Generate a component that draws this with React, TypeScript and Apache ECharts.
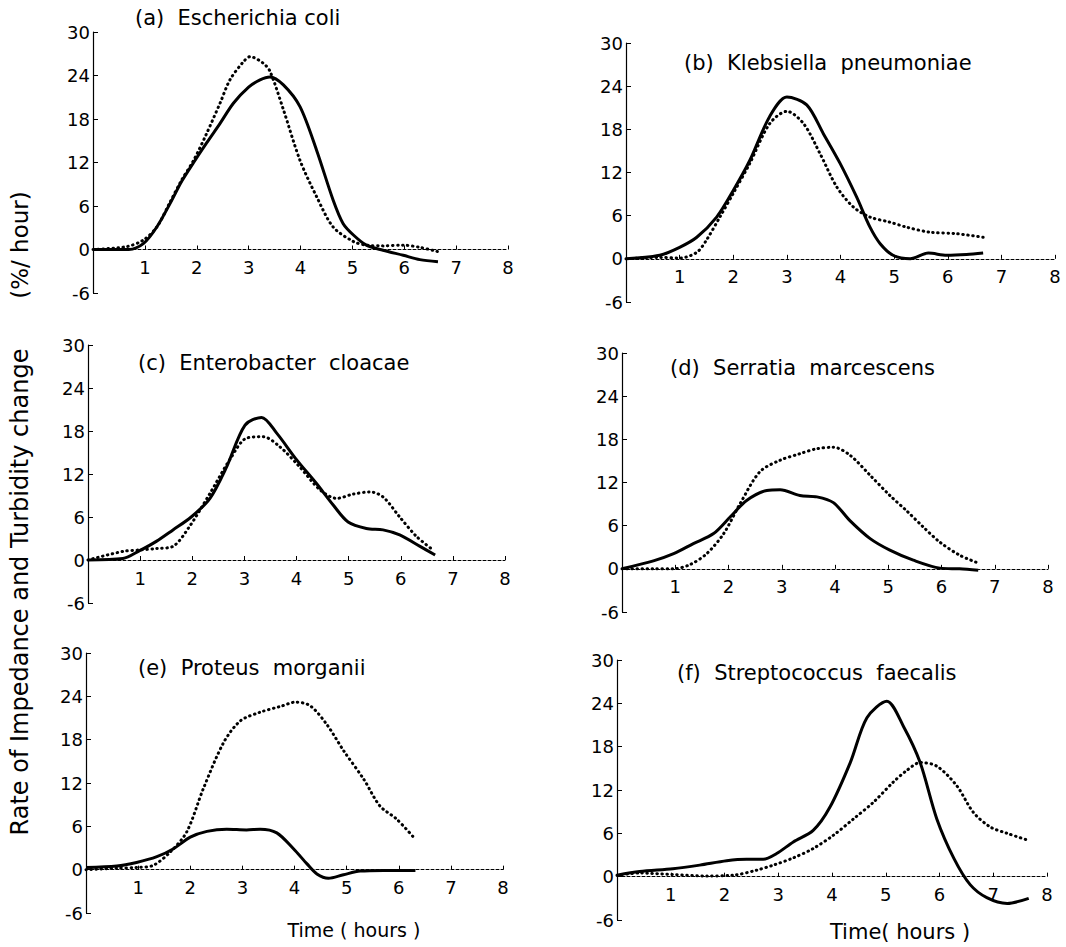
import React, { useEffect, useRef } from "react";
import * as echarts from "echarts";

// ---- data: [hours, % per hour] ----
const aSolid = [[0,0],[0.69,0],[0.97,0.8],[1.23,3.1],[1.49,6.4],[1.71,9.4],[1.94,12.0],[2.19,14.7],[2.45,17.4],[2.71,20.2],[3.0,22.4],[3.22,23.4],[3.41,23.8],[3.67,22.7],[3.99,19.7],[4.31,13.7],[4.63,6.8],[4.82,3.6],[5.02,2.0],[5.27,0.6],[5.59,-0.1],[5.98,-0.8],[6.3,-1.4],[6.65,-1.7]];
const aDotted = [[0,0],[0.65,0.4],[0.97,1.3],[1.23,3.1],[1.49,6.6],[1.71,9.6],[1.94,12.3],[2.19,16.0],[2.45,20.2],[2.64,23.4],[2.9,25.9],[3.03,26.6],[3.28,25.7],[3.41,24.6],[3.67,19.3],[3.99,12.3],[4.31,7.3],[4.63,3.1],[5.02,1.1],[5.27,0.6],[5.59,0.5],[5.98,0.6],[6.3,0.3],[6.65,-0.3]];

const bSolid = [[0,0],[0.63,0.5],[1.0,1.6],[1.32,3.0],[1.69,5.8],[2.0,9.5],[2.31,13.7],[2.68,19.8],[3.0,22.5],[3.37,21.4],[3.68,17.4],[3.99,13.3],[4.3,8.6],[4.55,4.4],[4.74,2.1],[4.98,0.5],[5.3,0],[5.64,0.8],[5.98,0.5],[6.35,0.6],[6.66,0.8]];
const bDotted = [[0,0],[0.63,0.2],[1.0,0.1],[1.32,0.9],[1.5,2.6],[1.75,5.8],[2.0,9.1],[2.31,13.3],[2.68,18.8],[3.0,20.5],[3.31,18.8],[3.62,14.6],[3.93,10.0],[4.24,7.2],[4.55,5.8],[4.92,5.1],[5.23,4.4],[5.67,3.7],[6.16,3.5],[6.66,3.0]];

const cSolid = [[0,0],[0.67,0.2],[0.99,1.3],[1.31,2.6],[1.63,4.2],[1.98,6.0],[2.34,8.6],[2.66,13.0],[3.01,18.8],[3.33,19.9],[3.62,17.7],[4.0,14.0],[4.38,10.7],[4.7,7.7],[4.99,5.3],[5.34,4.4],[5.66,4.2],[5.98,3.5],[6.37,1.9],[6.66,0.7]];
const cDotted = [[0,0],[0.67,1.2],[0.99,1.4],[1.31,1.6],[1.63,1.9],[1.95,4.7],[2.34,9.3],[2.72,14.0],[3.04,17.0],[3.36,17.2],[3.68,15.8],[4.06,13.0],[4.45,9.8],[4.77,8.6],[5.09,9.2],[5.41,9.5],[5.66,8.8],[5.98,6.0],[6.3,3.3],[6.62,1.4]];

const dSolid = [[0,0],[0.59,1.1],[0.97,2.1],[1.34,3.5],[1.72,4.9],[2.03,7.2],[2.34,9.5],[2.72,10.9],[2.97,11.0],[3.34,10.2],[3.66,10.0],[3.97,9.2],[4.28,6.7],[4.66,4.2],[5.03,2.6],[5.47,1.2],[5.97,0.1],[6.34,0],[6.69,-0.2]];
const dDotted = [[0,0],[0.59,0],[0.97,0],[1.28,0.6],[1.59,2.1],[1.91,4.9],[2.22,9.1],[2.59,13.5],[2.97,15.1],[3.34,16.0],[3.66,16.7],[3.97,16.9],[4.28,15.8],[4.66,13.0],[5.03,10.2],[5.34,8.1],[5.66,5.8],[5.97,3.7],[6.34,1.9],[6.69,0.8]];

const eSolid = [[0,0.3],[0.59,0.5],[0.97,1.0],[1.36,1.8],[1.68,2.9],[2.0,4.5],[2.32,5.3],[2.7,5.6],[3.08,5.5],[3.34,5.6],[3.66,5.1],[3.98,2.9],[4.24,0.8],[4.43,-0.6],[4.65,-1.2],[4.94,-0.7],[5.26,-0.2],[5.71,-0.1],[6.32,-0.1]];
const eDotted = [[0,0],[0.59,0.2],[0.97,0.3],[1.29,0.6],[1.61,2.4],[1.93,5.2],[2.25,11.2],[2.64,17.6],[2.96,20.6],[3.34,21.8],[3.73,22.6],[4.02,23.2],[4.3,22.7],[4.62,20.1],[4.94,16.5],[5.33,12.5],[5.64,8.8],[5.96,7.0],[6.32,4.2]];

const fSolid = [[0,0.2],[0.42,0.7],[1.04,1.1],[1.54,1.6],[2.04,2.2],[2.41,2.4],[2.72,2.4],[2.97,3.2],[3.28,4.8],[3.65,6.4],[3.96,9.6],[4.34,15.8],[4.65,22.0],[5.02,24.3],[5.33,20.8],[5.64,15.8],[5.95,8.0],[6.27,2.5],[6.57,-1.1],[6.88,-2.9],[7.26,-3.7],[7.66,-3.0]];
const fDotted = [[0,0.2],[0.42,0.5],[1.04,0.3],[1.66,0.1],[2.16,0.2],[2.6,0.9],[2.91,1.6],[3.28,2.6],[3.65,3.9],[4.02,5.7],[4.4,8.0],[4.77,10.3],[5.14,13.1],[5.39,14.7],[5.64,15.8],[5.95,15.3],[6.32,12.6],[6.63,8.9],[6.94,6.9],[7.26,6.0],[7.66,5.0]];

const titles = [
  "(a)  Escherichia coli",
  "(b)  Klebsiella  pneumoniae",
  "(c)  Enterobacter  cloacae",
  "(d)  Serratia  marcescens",
  "(e)  Proteus  morganii",
  "(f)  Streptococcus  faecalis",
];
const solids = [aSolid, bSolid, cSolid, dSolid, eSolid, fSolid];
const dotteds = [aDotted, bDotted, cDotted, dDotted, eDotted, fDotted];
const yMin = -6;
const yMax = 30;
const yStep = 6;
const xMax = 8;
const yAxisTitle = "Rate of Impedance and Turbidity change";
const yAxisUnit = "(%/ hour)";
const xAxisTitles = ["Time ( hours )", "Time( hours )"];

// ---- layout ----
const grids = [
  { left: 93, top: 32, width: 415, height: 261 },
  { left: 626, top: 43, width: 429, height: 259 },
  { left: 88, top: 345, width: 417, height: 258 },
  { left: 622, top: 353, width: 426, height: 259 },
  { left: 86, top: 653, width: 417, height: 260 },
  { left: 617, top: 660, width: 430, height: 260 },
];
const titlePos = [
  [135, 18], [684, 63], [138, 363], [670, 368], [138, 668], [677, 673],
];
const FONT = "DejaVu Sans";

export default function App() {
  const ref = useRef<HTMLDivElement>(null);
  useEffect(() => {
    if (!ref.current) return;
    const chart = echarts.init(ref.current, null, { renderer: "svg" });
    const xAxis = grids.map((g, i) => ({
      type: "value",
      gridIndex: i,
      min: 0,
      max: xMax,
      interval: 1,
      position: "bottom",
      offset: -(g.height * (0 - yMin)) / (yMax - yMin),
      axisLine: { onZero: false, lineStyle: { color: "#000", width: 1, type: [3, 2] } },
      axisTick: { show: true, inside: true, length: 4, lineStyle: { color: "#000" } },
      axisLabel: {
        color: "#000",
        fontSize: 18,
        fontFamily: FONT,
        margin: 9,
        formatter: (v: number) => (v === 0 ? "" : String(v)),
      },
      splitLine: { show: false },
    }));
    const yAxis = grids.map((_, i) => ({
      type: "value",
      gridIndex: i,
      min: yMin,
      max: yMax,
      interval: yStep,
      axisLine: { onZero: false, lineStyle: { color: "#000", width: 1.2 } },
      axisTick: { show: true, inside: true, length: 5, lineStyle: { color: "#000" } },
      axisLabel: { color: "#000", fontSize: 18, fontFamily: FONT, margin: 3 },
      splitLine: { show: false },
    }));
    const series: any[] = [];
    grids.forEach((_, i) => {
      series.push({
        type: "line",
        xAxisIndex: i,
        yAxisIndex: i,
        data: dotteds[i],
        showSymbol: false,
        smooth: 0.3,
        lineStyle: { color: "#000", width: 3, type: [0.5, 4.5], cap: "round" },
        z: 2,
      });
      series.push({
        type: "line",
        xAxisIndex: i,
        yAxisIndex: i,
        data: solids[i],
        showSymbol: false,
        smooth: 0.3,
        lineStyle: { color: "#000", width: 3 },
        z: 3,
      });
    });
    const graphic: any[] = titles.map((t, i) => ({
      type: "text",
      x: titlePos[i][0],
      y: titlePos[i][1],
      style: {
        text: t,
        fill: "#000",
        font: `21px "${FONT}"`,
        textVerticalAlign: "middle",
        textAlign: "left",
      },
    }));
    graphic.push({
      type: "text",
      x: 20,
      y: 592,
      rotation: Math.PI / 2,
      style: { text: yAxisTitle, fill: "#000", font: `24px "${FONT}"`, textAlign: "center", textVerticalAlign: "middle" },
    });
    graphic.push({
      type: "text",
      x: 20,
      y: 245,
      rotation: Math.PI / 2,
      style: { text: yAxisUnit, fill: "#000", font: `23px "${FONT}"`, textAlign: "center", textVerticalAlign: "middle" },
    });
    graphic.push({
      type: "text",
      x: 354,
      y: 930,
      style: { text: xAxisTitles[0], fill: "#000", font: `19px "${FONT}"`, textAlign: "center", textVerticalAlign: "middle" },
    });
    graphic.push({
      type: "text",
      x: 900,
      y: 932,
      style: { text: xAxisTitles[1], fill: "#000", font: `21px "${FONT}"`, textAlign: "center", textVerticalAlign: "middle" },
    });
    chart.setOption({
      animation: false,
      backgroundColor: "#fff",
      grid: grids.map((g) => ({ ...g, containLabel: false })),
      xAxis,
      yAxis,
      series,
      graphic,
    });
    return () => chart.dispose();
  }, []);
  return (
    <div
      ref={ref}
      style={{ position: "fixed", left: 0, top: 0, width: 1066, height: 947, background: "#fff" }}
    />
  );
}
